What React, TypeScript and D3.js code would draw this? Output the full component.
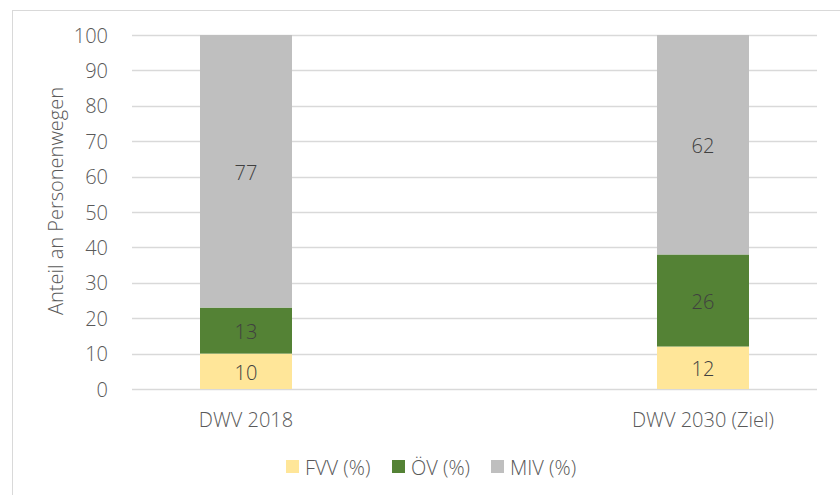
import React from "react";
import * as d3 from "d3";

const categories = ["DWV 2018", "DWV 2030 (Ziel)"];
const seriesNames = ["FVV (%)", "ÖV (%)", "MIV (%)"];
const fvv = [10, 12];
const oev = [13, 26];
const miv = [77, 62];
const yTicks = [0, 10, 20, 30, 40, 50, 60, 70, 80, 90, 100];

const colors = ["#ffe699", "#548235", "#bfbfbf"];
const W = 840;
const H = 495;
const FONT = "'Open Sans', 'Noto Sans', sans-serif";
const FS = 20;
const FW = 300;

export default function App() {
  const plotLeft = 132;
  const plotRight = 817;
  const plotTop = 35;
  const plotBottom = 389;

  const y = d3.scaleLinear().domain([0, 100]).range([plotBottom, plotTop]);
  const x = d3.scalePoint<string>().domain(categories).range([246, 703]);
  const barW = 92;

  const rows = categories.map((c, i) => ({ cat: c, fvv: fvv[i], oev: oev[i], miv: miv[i] }));
  const stacked = d3.stack<any>().keys(["fvv", "oev", "miv"])(rows);

  const legendItems = [
    { name: seriesNames[0], sx: 286, tx: 305 },
    { name: seriesNames[1], sx: 392, tx: 411 },
    { name: seriesNames[2], sx: 491, tx: 510 },
  ];

  return (
    <svg
      width={W}
      height={H}
      style={{ position: "absolute", left: 0, top: 0, background: "#fff" }}
      fontFamily={FONT}
      fontWeight={FW}
    >
      <rect x={0} y={0} width={W} height={H} fill="#fff" />
      {/* chart frame */}
      <line x1={12} x2={W} y1={10.5} y2={10.5} stroke="#d9d9d9" />
      <line x1={12.5} x2={12.5} y1={10} y2={H} stroke="#d9d9d9" />

      {/* gridlines and y tick labels */}
      {yTicks.map((t) => (
        <g key={t}>
          <line
            x1={plotLeft}
            x2={plotRight}
            y1={Math.round(y(t)) + 0.5}
            y2={Math.round(y(t)) + 0.5}
            stroke="#d9d9d9"
            strokeWidth={1.3}
          />
          <text
            x={108}
            y={y(t)}
            textAnchor="end"
            dominantBaseline="central"
            fontSize={FS}
            fill="#595959"
          >
            {t}
          </text>
        </g>
      ))}

      {/* stacked bars */}
      {stacked.map((layer, li) => (
        <g key={li}>
          {layer.map((d, i) => {
            const cx = x(categories[i]) as number;
            const y0 = y(d[0]);
            const y1 = y(d[1]);
            return (
              <g key={i}>
                <rect x={cx - barW / 2} y={y1} width={barW} height={y0 - y1} fill={colors[li]} />
                <text
                  x={cx}
                  y={(y0 + y1) / 2 + 1}
                  textAnchor="middle"
                  dominantBaseline="central"
                  fontSize={FS}
                  fill="#404040"
                >
                  {d[1] - d[0]}
                </text>
              </g>
            );
          })}
        </g>
      ))}

      {/* category labels */}
      {categories.map((c) => (
        <text
          key={c}
          x={x(c) as number}
          y={419}
          textAnchor="middle"
          dominantBaseline="central"
          fontSize={FS}
          fill="#595959"
        >
          {c}
        </text>
      ))}

      {/* y axis title */}
      <text
        transform={`translate(55,201) rotate(-90)`}
        textAnchor="middle"
        dominantBaseline="central"
        fontSize={FS}
        fill="#595959"
      >
        Anteil an Personenwegen
      </text>

      {/* legend */}
      {legendItems.map((l, i) => (
        <g key={l.name}>
          <rect x={l.sx} y={460} width={13} height={13} fill={colors[i]} />
          <text x={l.tx} y={467} dominantBaseline="central" fontSize={FS} fill="#595959">
            {l.name}
          </text>
        </g>
      ))}
    </svg>
  );
}
